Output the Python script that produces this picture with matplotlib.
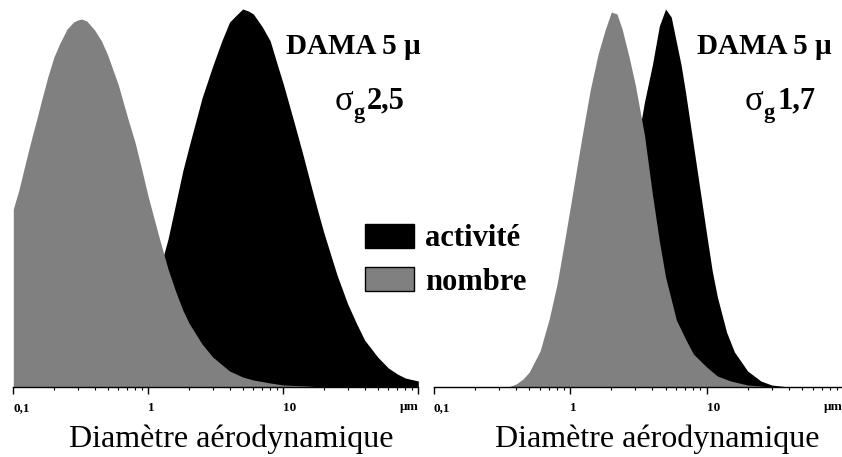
import matplotlib.pyplot as plt
from matplotlib.ticker import FixedLocator, NullFormatter, FixedFormatter
from matplotlib.patches import Patch

# values (diameter in µm, height in arbitrary units)
# left panel : sigma_g 2,5
d_act_25 = [0.1, 0.3, 0.5, 0.7, 1.0, 1.2, 1.4, 1.6, 1.8, 2.0, 2.5, 3.0, 3.5, 4.0, 4.5,
            5.0, 5.5, 6.0, 7.0, 8.0, 9.0, 10, 12, 14, 16, 18, 20, 25, 30, 35, 40,
            50, 60, 70, 80, 100]
act_25 = [0, 3, 15, 35, 80, 115, 148, 184, 216, 240, 289, 321, 346, 365, 372,
          378, 376, 373, 360, 346, 323, 303, 265, 232, 202, 176, 154, 112, 83, 63, 47,
          30, 19, 13, 9, 6]
d_nb_25 = [0.1, 0.11, 0.12, 0.13, 0.14, 0.15, 0.16, 0.18, 0.2, 0.22, 0.25, 0.28, 0.3,
           0.32, 0.35, 0.4, 0.45, 0.5, 0.6, 0.7, 0.8, 0.9, 1.0, 1.2, 1.4, 1.6, 1.8,
           2.0, 2.5, 3.0, 4.0, 5.0, 6.0, 8.0, 10, 15, 20, 100]
nb_25 = [178, 197, 218, 237, 254, 269, 284, 310, 330, 343, 358, 365, 367,
         368, 366, 357, 346, 332, 302, 270, 244, 216, 190, 150, 118, 95, 77,
         64, 43, 30, 16, 10, 7, 4, 2, 1, 0, 0]

# right panel : sigma_g 1,7
d_act_17 = [0.1, 0.9, 1.2, 1.6, 2.0, 2.5, 3.0, 3.5, 4.0, 4.5, 5.0, 5.5, 6.0, 6.5,
            7.0, 8.0, 9.0, 10, 11, 12, 14, 16, 18, 20, 25, 30, 40, 100]
act_17 = [0, 0, 8, 32, 80, 164, 232, 285, 322, 361, 378, 370, 345, 322,
          295, 242, 195, 153, 116, 90, 55, 35, 25, 16, 6, 2, 0, 0]
d_nb_17 = [0.1, 0.35, 0.4, 0.45, 0.5, 0.6, 0.7, 0.8, 0.9, 1.0, 1.2, 1.4, 1.6, 1.8,
           2.0, 2.2, 2.4, 2.7, 3.0, 3.5, 4.0, 4.5, 5.0, 6.0, 7.0, 8.0, 10, 12, 15,
           20, 30, 100]
nb_17 = [0, 0, 3, 8, 15, 36, 68, 103, 143, 180, 245, 297, 333, 357,
         375, 373, 358, 330, 302, 252, 193, 146, 110, 67, 48, 33, 20, 11, 6,
         2, 0, 0]

sigmas = ["2,5", "1,7"]
tick_pos = [0.1, 1, 10]
tick_lab = ["0,1", "1", "10"]

GRAY = "#808080"
W, H = 842, 457

plt.rcParams["font.family"] = ["Liberation Serif", "DejaVu Serif"]

fig = plt.figure(figsize=(W / 100, H / 100), dpi=100)


def px_axes(x0, x1, y0, y1):
    return fig.add_axes([x0 / W, 1 - y1 / H, (x1 - x0) / W, (y1 - y0) / H])


panels = [
    (px_axes(13.3, 418.3, 0, 387), d_act_25, act_25, d_nb_25, nb_25, 0.5375),
    (px_axes(434, 842.9, 0, 387), d_act_17, act_17, d_nb_17, nb_17, 0.545),
]

for (ax, da, a, dn, n, lab_x) in panels:
    ax.fill_between(da, a, 0, color="black", linewidth=0)
    ax.fill_between(dn, n, 0, color=GRAY, linewidth=0)
    ax.set_xscale("log")
    ax.set_xlim(0.1, 100)
    ax.set_ylim(0, 387)
    for s in ["top", "left", "right"]:
        ax.spines[s].set_visible(False)
    ax.spines["bottom"].set_linewidth(1)
    ax.set_yticks([])
    ax.xaxis.set_major_locator(FixedLocator(tick_pos + [100]))
    ax.xaxis.set_major_formatter(FixedFormatter(tick_lab + [""]))
    ax.xaxis.set_minor_locator(FixedLocator(
        [m * 10.0 ** e for e in (-1, 0, 1) for m in range(2, 10)]))
    ax.xaxis.set_minor_formatter(NullFormatter())
    ax.tick_params(axis="x", which="major", direction="out", length=5, width=1,
                   pad=6, labelsize=9.5)
    ax.tick_params(axis="x", which="minor", direction="out", length=2.5, width=0.8)
    for lab in ax.get_xticklabels():
        lab.set_fontweight("bold")
        lab.set_horizontalalignment("left")
    ax.text(100, -20, "µm", ha="right", va="center", fontsize=9.5,
            fontweight="bold", clip_on=False)
    ax.set_xlabel("Diamètre aérodynamique", fontsize=23)
    ax.xaxis.set_label_coords(lab_x, -0.098)

# annotations
for x_d, x_s, sig in [(286, 335, sigmas[0]), (697, 745, sigmas[1])]:
    fig.text(x_d / W, 1 - 47 / H, "DAMA 5 µ", fontsize=21, fontweight="bold",
             ha="left", va="center")
    fig.text(x_s / W, 1 - 102 / H, "σ", fontsize=25, ha="left", va="center")
    fig.text((x_s + 18) / W, 1 - 113 / H, "g", fontsize=16, fontweight="bold",
             ha="left", va="center")
    fig.text((x_s + 32) / W, 1 - 101 / H, sig, fontsize=22, fontweight="bold",
             ha="left", va="center")

handles = [Patch(facecolor="black", edgecolor="black", linewidth=1),
           Patch(facecolor=GRAY, edgecolor="black", linewidth=1)]
fig.legend(handles, ["activité", "nombre"], loc="upper left",
           bbox_to_anchor=(365 / W, 1 - 224 / H), frameon=False, borderpad=0,
           borderaxespad=0,
           prop={"family": "Liberation Serif", "weight": "bold", "size": 22},
           handlelength=1.6, handleheight=0.82, handletextpad=0.36,
           labelspacing=0.45)

fig.savefig("out.png", dpi=100)
